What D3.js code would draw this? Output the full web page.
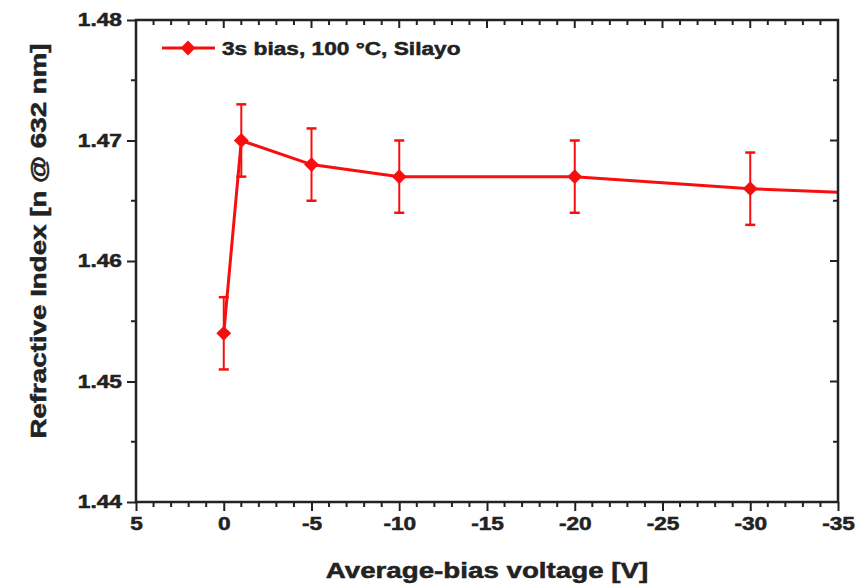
<!DOCTYPE html>
<html><head><meta charset="utf-8">
<script src="https://cdn.jsdelivr.net/npm/d3@7"></script>
<style>body{margin:0;background:#fff} text{stroke:#222;stroke-width:0.5px}</style>
</head><body>
<svg id="c" width="861" height="587"></svg>
<script>
const voltage = [0, -1, -5, -10, -20, -30, -40];
const refIndex = [1.454, 1.470, 1.468, 1.467, 1.467, 1.466, 1.4654];
const errBar = [0.003, 0.003, 0.003, 0.003, 0.003, 0.003, 0.003];
const xTicks = [5, 0, -5, -10, -15, -20, -25, -30, -35];
const yTicks = [1.44, 1.45, 1.46, 1.47, 1.48];
const legendLabel = "3s bias, 100 °C, Silayo";
const xTitle = "Average-bias voltage [V]";
const yTitle = "Refractive Index [n @ 632 nm]";

const svg = d3.select("#c");
const L = 136, R = 838, T = 20, B = 502;
const x = d3.scaleLinear().domain([5, -35]).range([L, R]);
const y = d3.scaleLinear().domain([1.44, 1.48]).range([B, T]);
const red = "#f70f0f", axc = "#222";
const font = "'Liberation Sans', Arial, sans-serif";
const K = 1.26;
function stretch(sel) {
  sel.each(function () {
    const w = this.getComputedTextLength();
    d3.select(this).attr("textLength", w * K).attr("lengthAdjust", "spacingAndGlyphs");
  });
}

const data = voltage.map((v, i) => ({v, n: refIndex[i], e: errBar[i]}));

svg.append("clipPath").attr("id", "clip").append("rect")
  .attr("x", L).attr("y", T).attr("width", R - L).attr("height", B - T);

const g = svg.append("g").attr("clip-path", "url(#clip)");
g.append("path").datum(data)
  .attr("d", d3.line().x(d => x(d.v)).y(d => y(d.n)))
  .attr("fill", "none").attr("stroke", red).attr("stroke-width", 3);
const eb = g.selectAll(".eb").data(data).join("g");
eb.append("line").attr("x1", d => x(d.v)).attr("x2", d => x(d.v))
  .attr("y1", d => y(d.n - d.e)).attr("y2", d => y(d.n + d.e))
  .attr("stroke", red).attr("stroke-width", 2);
eb.selectAll(".cap").data(d => [d.n - d.e, d.n + d.e].map(val => ({v: d.v, val})))
  .join("line").attr("x1", d => x(d.v) - 5).attr("x2", d => x(d.v) + 5)
  .attr("y1", d => y(d.val)).attr("y2", d => y(d.val))
  .attr("stroke", red).attr("stroke-width", 2.5);
const diamond = d3.symbol().type(d3.symbolDiamond2).size(140);
g.selectAll(".pt").data(data).join("path")
  .attr("transform", d => `translate(${x(d.v)},${y(d.n)})`)
  .attr("d", diamond).attr("fill", red);

// axes
const minorX = d3.range(5, -35.5, -1);
const minorY = d3.range(1.44, 1.4801, 0.005);
const xb = d3.axisBottom(x).tickValues(xTicks).tickSize(9).tickPadding(6).tickFormat(d => String(d));
const yl = d3.axisLeft(y).tickValues(yTicks).tickSize(9).tickPadding(5).tickFormat(d3.format(".2f"));
function styleAxis(sel) {
  sel.select(".domain").remove();
  sel.selectAll(".tick line").attr("stroke", axc).attr("stroke-width", 2);
  sel.selectAll("text").attr("font-family", font).attr("font-weight", "bold")
    .attr("font-size", 18).attr("fill", "#222").call(stretch);
}
svg.append("g").attr("transform", `translate(0,${B})`).call(xb).call(styleAxis);
svg.append("g").attr("transform", `translate(${L},0)`).call(yl).call(styleAxis);
// minor ticks
svg.append("g").selectAll("line").data(minorX.filter(v => !xTicks.includes(v))).join("line")
  .attr("x1", d => x(d)).attr("x2", d => x(d)).attr("y1", B).attr("y2", B + 5)
  .attr("stroke", axc).attr("stroke-width", 2);
svg.append("g").selectAll("line").data(minorY.filter((v, i) => i % 2 === 1)).join("line")
  .attr("x1", L - 5).attr("x2", L).attr("y1", d => y(d)).attr("y2", d => y(d))
  .attr("stroke", axc).attr("stroke-width", 2);
// top mirror ticks (inward)
svg.append("g").selectAll("line").data(minorX).join("line")
  .attr("x1", d => x(d)).attr("x2", d => x(d)).attr("y1", T)
  .attr("y2", d => T + (xTicks.includes(d) ? 8 : 5))
  .attr("stroke", axc).attr("stroke-width", 2);
// right mirror ticks (inward)
svg.append("g").selectAll("line").data(minorY).join("line")
  .attr("x1", R).attr("x2", (d, i) => R - (i % 2 === 0 ? 8 : 5))
  .attr("y1", d => y(d)).attr("y2", d => y(d))
  .attr("stroke", axc).attr("stroke-width", 2);
// frame
svg.append("rect").attr("x", L).attr("y", T).attr("width", R - L).attr("height", B - T)
  .attr("fill", "none").attr("stroke", axc).attr("stroke-width", 2.5);

// legend
const lg = svg.append("g");
lg.append("line").attr("x1", 162).attr("x2", 215).attr("y1", 48).attr("y2", 48)
  .attr("stroke", red).attr("stroke-width", 3);
lg.append("path").attr("transform", "translate(188,48)").attr("d", diamond).attr("fill", red);
lg.append("text").attr("x", 222).attr("y", 55).text(legendLabel)
  .attr("font-family", font).attr("font-weight", "bold").attr("font-size", 18).attr("fill", "#222")
  .call(stretch);

// titles
svg.append("text").attr("x", (L + R) / 2).attr("y", 578).attr("text-anchor", "middle")
  .attr("font-family", font).attr("font-weight", "bold").attr("font-size", 22).attr("fill", "#222")
  .text(xTitle).call(stretch);
svg.append("text").attr("transform", `translate(46,241) rotate(-90)`)
  .attr("text-anchor", "middle")
  .attr("font-family", font).attr("font-weight", "bold").attr("font-size", 22).attr("fill", "#222")
  .text(yTitle).call(stretch);
</script>
</body></html>
